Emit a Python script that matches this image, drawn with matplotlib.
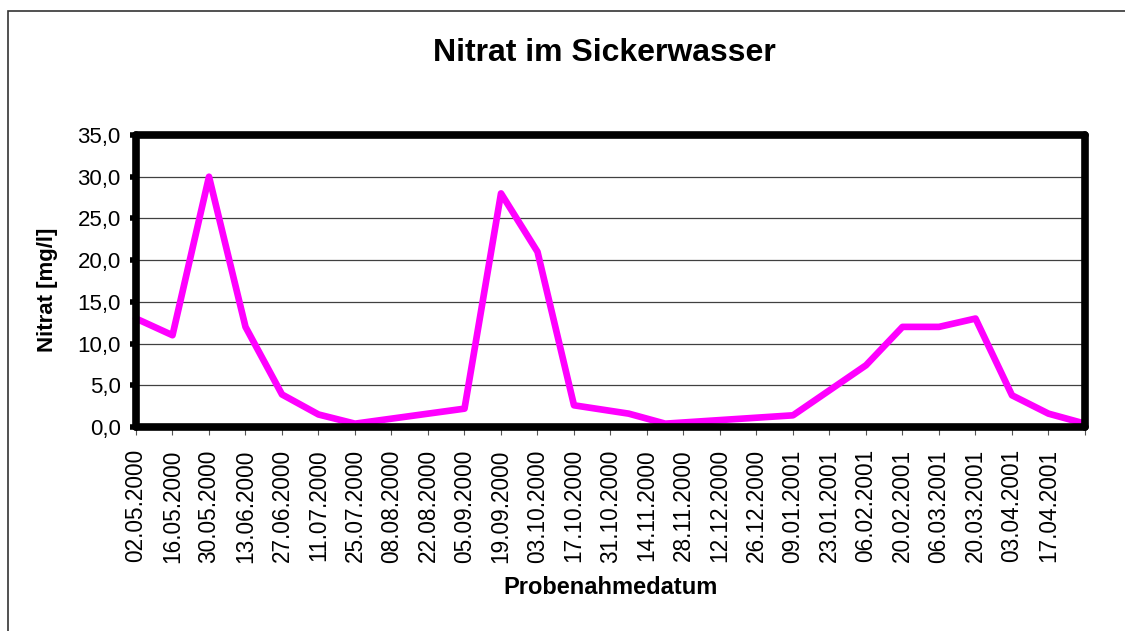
import matplotlib
matplotlib.use('Agg')
import matplotlib.pyplot as plt
import matplotlib.patches as patches
import pandas as pd

plt.rcParams['font.family'] = ['Liberation Sans', 'DejaVu Sans']

# Probenahme data
dates = ['2000-05-02', '2000-05-16', '2000-05-30', '2000-06-13', '2000-06-27',
         '2000-07-11', '2000-07-25', '2000-09-05', '2000-09-19', '2000-10-03',
         '2000-10-17', '2000-11-07', '2000-11-21', '2001-01-09', '2001-02-06',
         '2001-02-20', '2001-03-06', '2001-03-20', '2001-04-03', '2001-04-17',
         '2001-05-01']
nitrat = [13.0, 11.0, 30.0, 12.0, 3.9,
          1.5, 0.4, 2.2, 28.0, 21.0,
          2.6, 1.6, 0.4, 1.4, 7.4,
          12.0, 12.0, 13.0, 3.8, 1.6,
          0.4]

tick_start = '2000-05-02'
tick_end = '2001-05-01'
y_ticks = [0, 5, 10, 15, 20, 25, 30, 35]

title = 'Nitrat im Sickerwasser'
xlabel = 'Probenahmedatum'
ylabel = 'Nitrat [mg/l]'

x = pd.to_datetime(dates)
xticks = pd.date_range(tick_start, tick_end, freq='14D')
xticklabels = [d.strftime('%d.%m.%Y') for d in xticks]
xticklabels[-1] = ''

fig = plt.figure(figsize=(11.25, 6.31), dpi=100)
ax = fig.add_axes([136 / 1125, 1 - 427 / 631, (1085 - 136) / 1125, (427 - 135) / 631])

ax.plot(x, nitrat, color='#FF00FF', linewidth=4.8, clip_on=False, zorder=3,
        solid_joinstyle='round', solid_capstyle='round')

ax.set_xlim(xticks[0], xticks[-1])
ax.set_ylim(0, 35)
ax.set_yticks(y_ticks)
ax.set_yticklabels([f'{v:.1f}'.replace('.', ',') for v in y_ticks], fontsize=16)
ax.set_xticks(xticks)
ax.set_xticklabels(xticklabels, rotation=90, fontsize=16.3)

ax.tick_params(axis='y', length=4, width=4, pad=7, color='black')
ax.tick_params(axis='x', length=6, width=0.8, pad=10, color='#555555')

for v in y_ticks[1:-1]:
    ax.axhline(v, color='#404040', linewidth=0.9, zorder=1)

for s in ax.spines.values():
    s.set_linewidth(5.5)
    s.set_color('black')
    s.set_zorder(4)
    s.set_capstyle('round')

fig.text(604 / 1125, 1 - 53 / 631, title, fontsize=23, fontweight='bold',
         ha='center', va='center')
fig.text(611 / 1125, 1 - 587 / 631, xlabel, fontsize=17, fontweight='bold',
         ha='center', va='center')
fig.text(47 / 1125, 1 - 290 / 631, ylabel, fontsize=16, fontweight='bold',
         ha='center', va='center', rotation=90)

border = patches.Rectangle((8 / 1125, -0.1), 1.2, 1 - 11 / 631 + 0.1,
                           transform=fig.transFigure, fill=False,
                           edgecolor='#333333', linewidth=1.2, clip_on=False)
fig.patches.append(border)

fig.savefig('out.png', dpi=100)
